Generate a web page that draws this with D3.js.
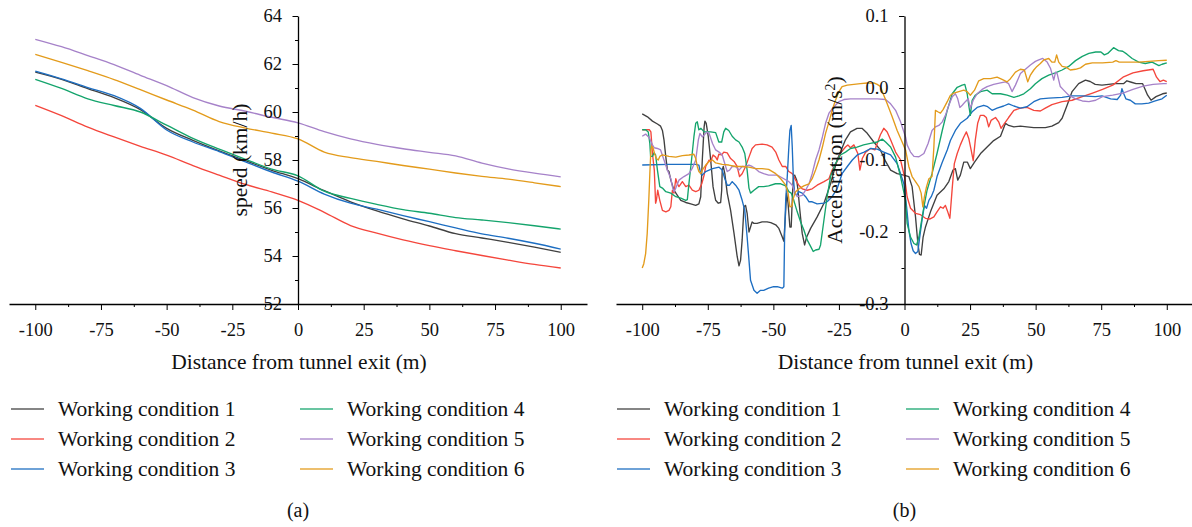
<!DOCTYPE html>
<html>
<head>
<meta charset="utf-8">
<script src="https://cdn.jsdelivr.net/npm/d3@7"></script>
<style>
  html, body { margin: 0; padding: 0; background: #fff; }
  svg { display: block; }
  text { font-family: "Liberation Serif", "Times New Roman", serif; fill: #111; }
</style>
</head>
<body>
<svg id="chart" width="1192" height="527"></svg>
<script>
// ---- data -------------------------------------------------------------
const conditions = ["Working condition 1", "Working condition 2", "Working condition 3",
                    "Working condition 4", "Working condition 5", "Working condition 6"];
const colors = ["#404040", "#f4463c", "#1d6ec2", "#14a46c", "#a682c9", "#e39b1b"];

const distanceTicks = [-100, -75, -50, -25, 0, 25, 50, 75, 100];
const speedTicks = [52, 54, 56, 58, 60, 62, 64];
const accelTicks = [-0.3, -0.2, -0.1, 0.0, 0.1];

// speed (km/h) sampled every 10 m
const speedDistance = [-100, -90, -80, -70, -60, -50, -40, -30, -20, -10, 0,
                       10, 20, 30, 40, 50, 60, 70, 80, 90, 100];
const speedWC1 = [61.66, 61.36, 60.97, 60.60, 60.10, 59.32, 58.82, 58.38, 57.97, 57.57, 57.22,
                  56.72, 56.26, 55.88, 55.55, 55.25, 54.93, 54.75, 54.57, 54.37, 54.15];
const speedWC2 = [60.28, 59.85, 59.37, 58.96, 58.57, 58.20, 57.77, 57.37, 56.98, 56.67, 56.32,
                  55.82, 55.27, 54.95, 54.67, 54.43, 54.22, 54.02, 53.83, 53.65, 53.50];
const speedWC3 = [61.70, 61.38, 61.02, 60.68, 60.15, 59.25, 58.75, 58.35, 57.92, 57.50, 57.12,
                  56.58, 56.20, 55.95, 55.68, 55.43, 55.17, 54.92, 54.74, 54.53, 54.29];
const speedWC4 = [61.36, 60.98, 60.55, 60.27, 60.00, 59.45, 58.90, 58.45, 58.03, 57.62, 57.34,
                  56.70, 56.40, 56.15, 55.93, 55.78, 55.60, 55.50, 55.39, 55.26, 55.12];
const speedWC5 = [63.03, 62.72, 62.35, 61.97, 61.53, 61.10, 60.60, 60.25, 60.03, 59.78, 59.55,
                  59.18, 58.88, 58.65, 58.47, 58.32, 58.17, 57.87, 57.63, 57.45, 57.30];
const speedWC6 = [62.40, 62.07, 61.72, 61.35, 60.93, 60.50, 60.08, 59.60, 59.33, 59.12, 58.88,
                  58.33, 58.10, 57.94, 57.77, 57.62, 57.46, 57.32, 57.20, 57.05, 56.89];

// acceleration (m/s²) as [distance, value] readings
const accelWC1 = [[-100,-0.036],[-98,-0.040],[-96.1,-0.046],[-94.2,-0.050],[-93,-0.053],[-92.3,-0.059],[-91.7,-0.072],[-91,-0.096],[-90.4,-0.114],[-89.8,-0.116],[-89.1,-0.128],[-87.9,-0.142],[-86.6,-0.149],[-85.3,-0.156],[-83.4,-0.159],[-81.5,-0.161],[-79.6,-0.163],[-78.4,-0.161],[-77.7,-0.151],[-77.1,-0.100],[-76.4,-0.054],[-76.1,-0.046],[-75.6,-0.049],[-74.8,-0.068],[-73.9,-0.100],[-73,-0.137],[-72,-0.156],[-71,-0.160],[-70.1,-0.159],[-69.7,-0.142],[-69.5,-0.114],[-69.1,-0.109],[-68.5,-0.119],[-67.6,-0.146],[-66.3,-0.170],[-65,-0.202],[-63.8,-0.234],[-63.1,-0.247],[-62.5,-0.239],[-61.9,-0.211],[-61.2,-0.165],[-60.6,-0.163],[-60,-0.174],[-59.3,-0.200],[-58.7,-0.193],[-58.1,-0.186],[-57.4,-0.188],[-56.2,-0.188],[-54.3,-0.186],[-52.4,-0.186],[-51,-0.187],[-49.1,-0.190],[-47.9,-0.195],[-46.6,-0.207],[-46,-0.213],[-45.3,-0.170],[-44.95,-0.146],[-44.4,-0.160],[-43.7,-0.193],[-43.2,-0.193],[-42.8,-0.156],[-42.4,-0.123],[-41.9,-0.121],[-41.1,-0.128],[-40.6,-0.142],[-39.9,-0.170],[-39,-0.202],[-38.1,-0.218],[-37.3,-0.207],[-35.8,-0.195],[-33.3,-0.179],[-30.7,-0.160],[-28.2,-0.133],[-25.7,-0.100],[-22.5,-0.072],[-20.6,-0.061],[-18.1,-0.056],[-16.2,-0.056],[-14.2,-0.063],[-11.7,-0.075],[-9.2,-0.086],[-7.2,-0.102],[-5.3,-0.114],[-2.8,-0.119],[-0.3,-0.121],[1.65,-0.123],[2.9,-0.137],[4.2,-0.179],[5.1,-0.216],[5.7,-0.231],[6.35,-0.232],[7.1,-0.207],[8,-0.193],[9.9,-0.172],[12.4,-0.149],[15,-0.140],[16.9,-0.130],[18.5,-0.114],[19.4,-0.112],[20.3,-0.128],[21.3,-0.121],[22.6,-0.103],[24,-0.103],[25.1,-0.112],[26.7,-0.103],[29,-0.091],[31.5,-0.082],[34,-0.073],[36.6,-0.067],[38.5,-0.049],[39.7,-0.052],[41.7,-0.054],[44.2,-0.053],[46.7,-0.054],[49.3,-0.055],[51.8,-0.055],[53.7,-0.055],[56.2,-0.053],[58.8,-0.048],[60.1,-0.042],[62,-0.024],[63.9,-0.005],[66.4,0.006],[69,0.011],[70.8,0.009],[72.7,0.005],[75.3,0.004],[80.3,0.006],[83.5,0.006],[84.8,0.010],[86.5,0.008],[88.3,0.006],[90.8,0.006],[92.7,-0.010],[94,-0.017],[95.9,-0.012],[98.4,-0.008],[100,-0.007]];
const accelWC2 = [[-100,-0.058],[-97.3,-0.058],[-96.7,-0.061],[-96.1,-0.091],[-95.4,-0.114],[-94.9,-0.160],[-94.6,-0.156],[-94.1,-0.142],[-93.3,-0.156],[-92.3,-0.170],[-91,-0.172],[-89.8,-0.170],[-89.1,-0.165],[-88.5,-0.142],[-87.9,-0.146],[-87.2,-0.126],[-86.6,-0.133],[-86,-0.137],[-84.7,-0.130],[-83.4,-0.137],[-82.2,-0.135],[-80.9,-0.142],[-79.6,-0.144],[-78.4,-0.142],[-77.3,-0.133],[-76.4,-0.121],[-75.8,-0.109],[-74.5,-0.100],[-73.9,-0.102],[-73,-0.093],[-72,-0.096],[-71.4,-0.100],[-70.8,-0.092],[-69.7,-0.093],[-68.9,-0.089],[-67.6,-0.090],[-66.3,-0.098],[-65,-0.102],[-63.8,-0.109],[-62.9,-0.123],[-61.9,-0.119],[-60.6,-0.109],[-59.3,-0.096],[-58.1,-0.084],[-56.8,-0.079],[-54.3,-0.078],[-52.4,-0.079],[-50.5,-0.082],[-49.1,-0.089],[-47.9,-0.100],[-46.6,-0.109],[-45.3,-0.109],[-44.1,-0.116],[-42.8,-0.119],[-41.5,-0.128],[-40.3,-0.135],[-39,-0.140],[-37.1,-0.142],[-35.2,-0.140],[-33.3,-0.135],[-30.7,-0.130],[-28.8,-0.126],[-27.6,-0.114],[-25.7,-0.102],[-24.1,-0.089],[-22.5,-0.082],[-21.6,-0.079],[-20.6,-0.083],[-19.3,-0.079],[-17.8,-0.091],[-17,-0.114],[-16.1,-0.098],[-14.8,-0.089],[-12.9,-0.084],[-11.3,-0.086],[-10.4,-0.077],[-9.2,-0.065],[-7.9,-0.056],[-6.6,-0.061],[-5.3,-0.072],[-3.4,-0.089],[-1.5,-0.100],[0,-0.123],[1,-0.151],[2.3,-0.167],[4.2,-0.174],[6.1,-0.176],[8,-0.181],[9.6,-0.182],[11.2,-0.179],[12.4,-0.172],[13.7,-0.165],[14.7,-0.167],[15.6,-0.163],[16.3,-0.170],[17.3,-0.181],[18.2,-0.139],[19,-0.105],[20.1,-0.091],[21.3,-0.079],[22.6,-0.068],[23.6,-0.061],[24.5,-0.070],[25.4,-0.086],[26.2,-0.101],[27,-0.072],[27.9,-0.049],[28.9,-0.038],[30.2,-0.038],[31.2,-0.041],[32.1,-0.054],[33,-0.045],[34.7,-0.041],[35.9,-0.047],[36.8,-0.056],[37.8,-0.051],[39.7,-0.041],[41.7,-0.031],[44.2,-0.028],[46.7,-0.027],[49.3,-0.031],[51.8,-0.032],[53.7,-0.028],[56.2,-0.023],[60.1,-0.019],[63.9,-0.017],[67.8,-0.012],[71.7,-0.007],[75.5,-0.002],[79.4,0.004],[83.3,0.015],[87.1,0.021],[91,0.024],[94.8,0.026],[96.1,0.015],[97.4,0.009],[98.7,0.011],[100,0.009]];
const accelWC3 = [[-100,-0.107],[-89.8,-0.106],[-79.6,-0.106],[-78.4,-0.107],[-77.7,-0.119],[-77.1,-0.121],[-75.8,-0.116],[-73.2,-0.112],[-70.7,-0.110],[-69.5,-0.114],[-68.5,-0.126],[-67.6,-0.135],[-66.7,-0.135],[-65.7,-0.130],[-64.4,-0.135],[-63.1,-0.142],[-61.9,-0.156],[-60.9,-0.170],[-60,-0.207],[-59.3,-0.239],[-58.7,-0.267],[-57.4,-0.281],[-56.2,-0.285],[-54.9,-0.281],[-53.7,-0.281],[-51.8,-0.278],[-49.9,-0.276],[-48.5,-0.276],[-46.6,-0.278],[-46,-0.276],[-45.7,-0.202],[-45.3,-0.156],[-44.7,-0.123],[-44.1,-0.082],[-43.7,-0.059],[-43.2,-0.052],[-42.8,-0.082],[-42.4,-0.123],[-41.9,-0.146],[-41.1,-0.149],[-40.3,-0.144],[-39,-0.146],[-37.7,-0.151],[-36.4,-0.158],[-35.2,-0.158],[-33.3,-0.161],[-30.7,-0.160],[-29.5,-0.158],[-27.6,-0.151],[-25.7,-0.140],[-23.8,-0.119],[-21.8,-0.109],[-19.9,-0.100],[-18,-0.093],[-15.4,-0.089],[-12.9,-0.084],[-10.4,-0.085],[-7.9,-0.089],[-5.3,-0.093],[-2.8,-0.105],[-1.5,-0.119],[-0.25,-0.133],[0.8,-0.165],[1.65,-0.197],[2.5,-0.216],[3.3,-0.226],[4.2,-0.230],[5.1,-0.227],[5.8,-0.207],[6.7,-0.183],[7.6,-0.163],[8.4,-0.167],[9.3,-0.156],[10.2,-0.151],[11.2,-0.142],[12.4,-0.123],[14.4,-0.103],[16.3,-0.086],[17.5,-0.073],[19.4,-0.059],[21.3,-0.049],[23.9,-0.042],[25.8,-0.033],[27.7,-0.027],[30.2,-0.024],[31.7,-0.026],[33.4,-0.031],[35.3,-0.028],[37.8,-0.025],[39.7,-0.022],[41.7,-0.025],[44.2,-0.028],[46.7,-0.026],[49.3,-0.019],[51.8,-0.015],[55,-0.014],[60.1,-0.013],[63.9,-0.011],[67.8,-0.011],[72.7,-0.012],[75.3,-0.011],[78.6,-0.015],[81.1,-0.016],[82.4,-0.010],[82.9,-0.001],[83.6,-0.008],[84.4,-0.015],[86.1,-0.017],[88,-0.022],[90.5,-0.022],[93.1,-0.021],[95.6,-0.018],[98.2,-0.015],[100,-0.010]];
const accelWC4 = [[-100,-0.058],[-98.7,-0.058],[-97.7,-0.061],[-97.1,-0.077],[-96.8,-0.095],[-96.1,-0.095],[-95.5,-0.090],[-94.9,-0.093],[-94.2,-0.114],[-93.3,-0.137],[-92.3,-0.139],[-91,-0.144],[-89.1,-0.146],[-87.2,-0.151],[-85.3,-0.153],[-83.4,-0.156],[-82.8,-0.155],[-82.2,-0.133],[-81.2,-0.100],[-80.3,-0.068],[-79.6,-0.049],[-79,-0.047],[-78.4,-0.058],[-77.6,-0.056],[-76.4,-0.061],[-73.9,-0.061],[-72,-0.062],[-70.8,-0.075],[-69.7,-0.075],[-68.9,-0.061],[-68.2,-0.056],[-67,-0.059],[-65.7,-0.067],[-64.4,-0.072],[-63.1,-0.075],[-61.9,-0.082],[-60.9,-0.091],[-60,-0.114],[-59.3,-0.139],[-58.7,-0.146],[-57.4,-0.142],[-55.6,-0.137],[-53.7,-0.137],[-51.8,-0.136],[-49.2,-0.133],[-47.2,-0.133],[-45.3,-0.136],[-44.1,-0.144],[-43.2,-0.146],[-42.2,-0.156],[-40.9,-0.172],[-39.6,-0.186],[-38.4,-0.197],[-37.1,-0.211],[-35.8,-0.220],[-34.8,-0.227],[-33.9,-0.225],[-32.6,-0.224],[-32,-0.218],[-30.7,-0.183],[-29.5,-0.151],[-28.2,-0.123],[-26.3,-0.105],[-24.4,-0.093],[-22.5,-0.089],[-20.6,-0.084],[-18.1,-0.082],[-15.6,-0.079],[-13,-0.077],[-10.4,-0.075],[-8.5,-0.071],[-7.2,-0.075],[-5.3,-0.082],[-3.4,-0.096],[-1.5,-0.123],[0.4,-0.156],[1,-0.188],[2.3,-0.207],[3.6,-0.216],[4.6,-0.218],[5.5,-0.207],[6.35,-0.188],[7.4,-0.165],[8.6,-0.142],[10.5,-0.119],[12.4,-0.091],[14.4,-0.059],[16.3,-0.031],[18.2,-0.008],[20.1,0.001],[22,0.004],[23,0.005],[23.9,-0.008],[24.5,-0.024],[25.1,-0.038],[25.8,-0.017],[27,-0.010],[29,-0.005],[31.5,-0.003],[33.4,-0.008],[36.6,-0.008],[39.1,-0.010],[41.7,-0.013],[43.6,-0.011],[45.5,-0.008],[48,-0.001],[49.9,0.006],[52.4,0.013],[55,0.018],[57.5,0.021],[60.1,0.025],[62.6,0.030],[65.2,0.038],[67.8,0.044],[70.3,0.048],[72.9,0.050],[74.9,0.050],[76.2,0.046],[77.5,0.048],[79.7,0.056],[81.6,0.052],[83.2,0.051],[84.8,0.047],[86.8,0.041],[89.3,0.036],[91.8,0.034],[94.4,0.036],[97,0.031],[98.2,0.033],[100,0.035]];
const accelWC5 = [[-100,-0.067],[-98.7,-0.064],[-97.3,-0.069],[-96.1,-0.079],[-95.4,-0.083],[-94.2,-0.084],[-93,-0.086],[-91.7,-0.100],[-90.4,-0.114],[-89.1,-0.126],[-88.5,-0.137],[-87.9,-0.144],[-87.2,-0.139],[-86,-0.128],[-84.1,-0.123],[-82.2,-0.119],[-81,-0.112],[-79.6,-0.100],[-78.6,-0.072],[-78,-0.063],[-77.1,-0.068],[-75.8,-0.063],[-75.2,-0.061],[-74.5,-0.063],[-73.2,-0.077],[-72,-0.086],[-70.7,-0.089],[-69.5,-0.093],[-68.2,-0.109],[-67.6,-0.116],[-66.7,-0.114],[-65.7,-0.109],[-64.4,-0.109],[-63.1,-0.114],[-61.9,-0.109],[-60.6,-0.109],[-59.3,-0.107],[-58.1,-0.109],[-56.8,-0.112],[-55.6,-0.116],[-53.7,-0.119],[-51.8,-0.121],[-48.5,-0.121],[-46,-0.126],[-44.1,-0.130],[-42.8,-0.135],[-41.9,-0.144],[-40.9,-0.151],[-39,-0.149],[-37.7,-0.142],[-36.4,-0.133],[-35.2,-0.119],[-33.9,-0.100],[-32.6,-0.086],[-31.3,-0.068],[-30.1,-0.049],[-28.8,-0.035],[-26.9,-0.026],[-25,-0.019],[-23.1,-0.016],[-20.6,-0.015],[-15.6,-0.015],[-10.4,-0.015],[-7.2,-0.016],[-5.3,-0.022],[-3.4,-0.031],[-1.5,-0.047],[0.4,-0.068],[1,-0.079],[2.3,-0.089],[3.6,-0.095],[5.5,-0.0955],[7.4,-0.091],[9,-0.077],[10.5,-0.059],[11.8,-0.054],[13.1,-0.052],[14.4,-0.047],[15.6,-0.038],[16.9,-0.024],[18.2,-0.012],[19.4,-0.008],[20.3,-0.015],[21.1,-0.027],[22,-0.024],[23.2,-0.019],[24.3,-0.015],[25.1,-0.028],[26.2,-0.017],[27.7,-0.008],[29.6,-0.002],[31.5,0.002],[34,0.005],[36.6,0.007],[38.5,0.0085],[39.7,0.006],[41,-0.005],[42.3,0.004],[44.2,0.020],[46.1,0.026],[48,0.032],[49.9,0.037],[51.2,0.039],[52.7,0.041],[54.4,0.036],[55.7,0.027],[56.9,0.011],[57.6,0.022],[58.2,0.020],[59.4,0.002],[60.7,-0.003],[62.6,-0.010],[65.2,-0.015],[67.8,-0.018],[70.3,-0.019],[72.9,-0.017],[75.5,-0.012],[79.4,-0.010],[83.3,-0.007],[87.1,-0.002],[91,0.0025],[94.8,0.005],[98.7,0.006],[100,0.006]];
const accelWC6 = [[-100,-0.250],[-99.4,-0.244],[-98.7,-0.230],[-98.1,-0.202],[-97.5,-0.156],[-97.1,-0.119],[-96.7,-0.086],[-96.4,-0.081],[-95.9,-0.083],[-95.3,-0.091],[-94.6,-0.098],[-93.9,-0.100],[-93.3,-0.095],[-92.3,-0.093],[-89.8,-0.095],[-87.2,-0.096],[-84.7,-0.094],[-82.2,-0.093],[-80.3,-0.092],[-79.6,-0.098],[-79,-0.109],[-78.4,-0.116],[-77.7,-0.119],[-77.1,-0.114],[-75.8,-0.107],[-74.5,-0.102],[-73.2,-0.100],[-72,-0.104],[-69.5,-0.106],[-67,-0.107],[-64.4,-0.109],[-61.9,-0.109],[-59.3,-0.110],[-56.8,-0.112],[-54.3,-0.112],[-51.8,-0.113],[-49.1,-0.119],[-47.2,-0.126],[-45.3,-0.135],[-44.4,-0.146],[-43.7,-0.165],[-42.9,-0.164],[-42.4,-0.153],[-41.5,-0.144],[-40.3,-0.140],[-38.4,-0.136],[-36.4,-0.133],[-35.2,-0.126],[-33.9,-0.114],[-32.6,-0.100],[-31.3,-0.082],[-30.1,-0.063],[-28.8,-0.047],[-27.6,-0.031],[-26.3,-0.017],[-25,-0.005],[-23.8,0.002],[-21.8,0.004],[-19.3,0.005],[-16.8,0.006],[-14.2,0.007],[-11.7,0.007],[-10.4,0.005],[-9.2,0.002],[-7.9,-0.010],[-6.6,-0.022],[-4.7,-0.040],[-2.8,-0.059],[-0.9,-0.075],[0.4,-0.086],[1.65,-0.109],[2.9,-0.123],[4.2,-0.130],[5.5,-0.137],[6.35,-0.146],[7,-0.165],[7.6,-0.151],[8.4,-0.137],[9.3,-0.126],[10.5,-0.123],[11.2,-0.082],[11.8,-0.031],[12.7,-0.033],[13.7,-0.035],[14.7,-0.030],[16.3,-0.019],[17.5,-0.010],[18.8,-0.007],[20.7,-0.005],[22.6,-0.003],[23.9,-0.005],[25.1,-0.010],[26.7,-0.003],[28.3,0.010],[30.2,0.013],[32.8,0.013],[35.3,0.015],[37.2,0.012],[39.1,0.0085],[40.4,0.013],[42.3,0.022],[44.2,0.026],[45.7,0.025],[47,0.0085],[48,0.018],[49.3,0.025],[50.5,0.030],[51.8,0.034],[53.1,0.039],[55,0.041],[56.2,0.036],[57.3,0.036],[58,0.046],[58.8,0.036],[60.1,0.030],[61.6,0.029],[63.2,0.025],[65.2,0.026],[67.1,0.028],[69,0.033],[71.6,0.035],[75.5,0.035],[79.4,0.036],[80.6,0.038],[81.9,0.036],[85.5,0.036],[89.3,0.036],[93.1,0.037],[97,0.038],[100,0.0385]];

const speedSeries = [speedWC1, speedWC2, speedWC3, speedWC4, speedWC5, speedWC6]
  .map(vals => vals.map((v, i) => [speedDistance[i], v]));
const accelSeries = [accelWC1, accelWC2, accelWC3, accelWC4, accelWC5, accelWC6];

// ---- drawing ----------------------------------------------------------
const svg = d3.select("#chart");
const TICK_FONT = 18.5;
const LABEL_FONT = 21.5;

// plain hyphen-minus for negative tick labels
const hyphen = fmt => v => fmt(v).replace("\u2212", "-");

function panel(opts) {
  const g = svg.append("g");
  const x = d3.scaleLinear().domain([-110, 110]).range(opts.xRange);
  const y = d3.scaleLinear().domain(opts.yDomain).range([304, 16]);
  const x0 = x(0);

  // lines
  const clipId = "clip-" + opts.key;
  svg.append("defs").append("clipPath").attr("id", clipId)
    .append("rect").attr("x", opts.xRange[0]).attr("y", 0)
    .attr("width", opts.xRange[1] - opts.xRange[0]).attr("height", 305);

  const line = d3.line().x(d => x(d[0])).y(d => y(d[1])).curve(opts.curve);
  g.append("g").attr("clip-path", `url(#${clipId})`)
    .selectAll("path").data(opts.series).join("path")
    .attr("d", line)
    .attr("fill", "none")
    .attr("stroke", (d, i) => colors[i])
    .attr("stroke-width", 1.35)
    .attr("stroke-linejoin", "round");

  // x axis: major + minor ticks
  const xMinor = d3.range(-100, 100.1, 12.5).filter(v => !distanceTicks.includes(v));
  g.append("g").attr("transform", "translate(0,304)")
    .call(d3.axisBottom(x).tickValues(xMinor).tickSize(3).tickSizeOuter(0).tickFormat(""))
    .call(s => s.select(".domain").attr("stroke-width", 1.3));
  g.append("g").attr("transform", "translate(0,304)")
    .call(d3.axisBottom(x).tickValues(distanceTicks).tickSize(6).tickSizeOuter(0)
      .tickPadding(13).tickFormat(hyphen(d3.format("d"))))
    .call(s => s.select(".domain").remove())
    .call(s => s.selectAll("text").attr("font-size", TICK_FONT)
      .attr("font-family", "Liberation Serif").attr("fill", "#111"));

  // y axis at the tunnel exit
  g.append("g").attr("transform", `translate(${x0},0)`)
    .call(d3.axisLeft(y).tickValues(opts.yMinor).tickSize(3).tickSizeOuter(0).tickFormat(""))
    .call(s => s.select(".domain").attr("stroke-width", 1.3));
  g.append("g").attr("transform", `translate(${x0},0)`)
    .call(d3.axisLeft(y).tickValues(opts.yTicks).tickSize(5.5).tickSizeOuter(0)
      .tickPadding(10.5).tickFormat(hyphen(opts.yFormat)))
    .call(s => s.select(".domain").remove())
    .call(s => s.selectAll("text").attr("font-size", TICK_FONT)
      .attr("font-family", "Liberation Serif").attr("fill", "#111"));

  // y axis title, rotated
  const yt = g.append("text")
    .attr("transform", `translate(${opts.yTitleX},160) rotate(-90)`)
    .attr("text-anchor", "middle")
    .attr("font-size", LABEL_FONT);
  opts.yTitle(yt);

  // x axis title
  g.append("text").attr("x", x0 + 1).attr("y", 369)
    .attr("text-anchor", "middle").attr("font-size", LABEL_FONT)
    .text("Distance from tunnel exit (m)");

  // legend, two columns of three
  const legend = g.append("g");
  conditions.forEach((name, i) => {
    const col = Math.floor(i / 3), row = i % 3;
    const lx = opts.legendX[col], ly = 409 + row * 30;
    legend.append("line").attr("x1", lx).attr("x2", lx + 33)
      .attr("y1", ly).attr("y2", ly)
      .attr("stroke", colors[i]).attr("stroke-width", 1.6).attr("opacity", 0.85);
    legend.append("text").attr("x", lx + 47).attr("y", ly + 7)
      .attr("font-size", LABEL_FONT).text(name);
  });

  // panel caption
  g.append("text").attr("x", x0).attr("y", 517)
    .attr("text-anchor", "middle").attr("font-size", 20).text(opts.caption);
}

panel({
  key: "speed",
  xRange: [9, 587],
  yDomain: [52, 64],
  yTicks: speedTicks,
  yMinor: [53, 55, 57, 59, 61, 63],
  yFormat: d3.format("d"),
  series: speedSeries,
  curve: d3.curveMonotoneX,
  yTitleX: 247,
  yTitle: t => t.text("speed (km/h)"),
  legendX: [11, 300],
  caption: "(a)"
});

panel({
  key: "accel",
  xRange: [616, 1193],
  yDomain: [-0.3, 0.1],
  yTicks: accelTicks,
  yMinor: [-0.25, -0.15, -0.05, 0.05],
  yFormat: d3.format(".1f"),
  series: accelSeries,
  curve: d3.curveLinear,
  yTitleX: 842,
  yTitle: t => {
    t.append("tspan").text("Acceleration (m/s");
    t.append("tspan").attr("baseline-shift", "super").attr("font-size", 14).text("2");
    t.append("tspan").text(")");
  },
  legendX: [617, 906],
  caption: "(b)"
});
</script>
</body>
</html>
